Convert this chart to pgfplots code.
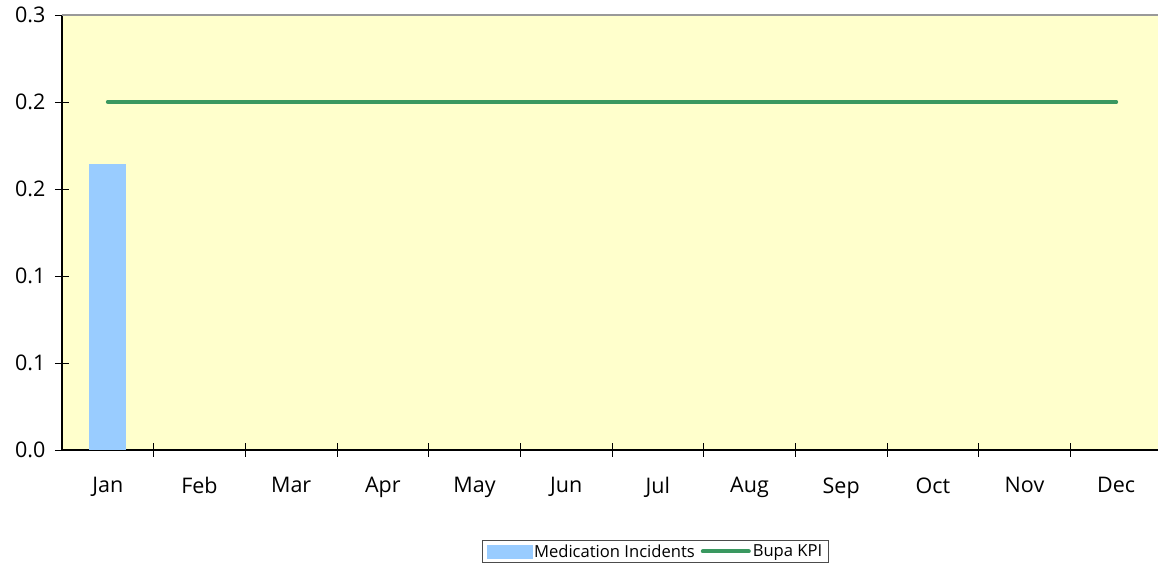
\documentclass[border=0pt]{standalone}
\usepackage{pgfplots}
\pgfplotsset{compat=1.18}
\usepackage{fontspec}
\setmainfont{Open Sans}
\definecolor{bgyellow}{HTML}{FFFFCC}
\definecolor{barblue}{HTML}{99CCFF}
\definecolor{kpigreen}{RGB}{58,152,96}
\begin{document}
\begin{tikzpicture}[x=1bp,y=1bp]
\path[use as bounding box] (-62,-120) rectangle (1096,450);
\begin{axis}[
  at={(0,0)}, anchor=south west,
  scale only axis, width=1100bp, height=435bp,
  xmin=-0.5, xmax=11.5, ymin=0, ymax=0.3,
  axis background/.style={fill=bgyellow},
  axis x line=bottom, axis y line=left,
  axis line style={-, black, line width=1.2bp},
  tick align=center,
  major tick length=14bp, minor tick length=14bp,
  tick style={black, line width=0.9bp},
  xtick={0,...,11},
  xticklabels={Jan,Feb,Mar,Apr,May,Jun,Jul,Aug,Sep,Oct,Nov,Dec},
  major x tick style={draw=none},
  minor xtick={0.5,1.5,2.5,3.5,4.5,5.5,6.5,7.5,8.5,9.5,10.5},
  ytick={0,0.06,0.12,0.18,0.24,0.3},
  yticklabels={0.0,0.1,0.1,0.2,0.2,0.3},
  ticklabel style={font=\fontsize{21.5bp}{25bp}\selectfont},
  yticklabel style={xshift=-6bp},
  xticklabel style={yshift=-17bp},
  legend columns=2,
  legend style={at={(0.5395,-0.2333)}, anchor=center, draw=black!70, fill=white,
    font=\fontsize{16.6bp}{19bp}\selectfont, inner xsep=4bp, inner ysep=2bp,
    /tikz/every even column/.append style={column sep=4bp}},
]
\draw[black!40, line width=1.5bp] (rel axis cs:0,1) -- (rel axis cs:1,1);
\addplot[ybar, bar width=37bp, fill=barblue, draw=none, forget plot] coordinates {(0,0.197)};
\addlegendimage{legend image code/.code={\fill[barblue] (0bp,-6.5bp) rectangle (45bp,6.5bp);}}
\addlegendentry{Medication Incidents}
\addplot[kpigreen, line width=4bp, line cap=round, mark=none,
  legend image code/.code={\draw[kpigreen, line width=4bp, line cap=round] (0bp,0bp) -- (46bp,0bp);}]
  coordinates {(0,0.24)(1,0.24)(2,0.24)(3,0.24)(4,0.24)(5,0.24)(6,0.24)(7,0.24)(8,0.24)(9,0.24)(10,0.24)(11,0.24)};
\addlegendentry{Bupa KPI}
\end{axis}
\end{tikzpicture}
\end{document}
